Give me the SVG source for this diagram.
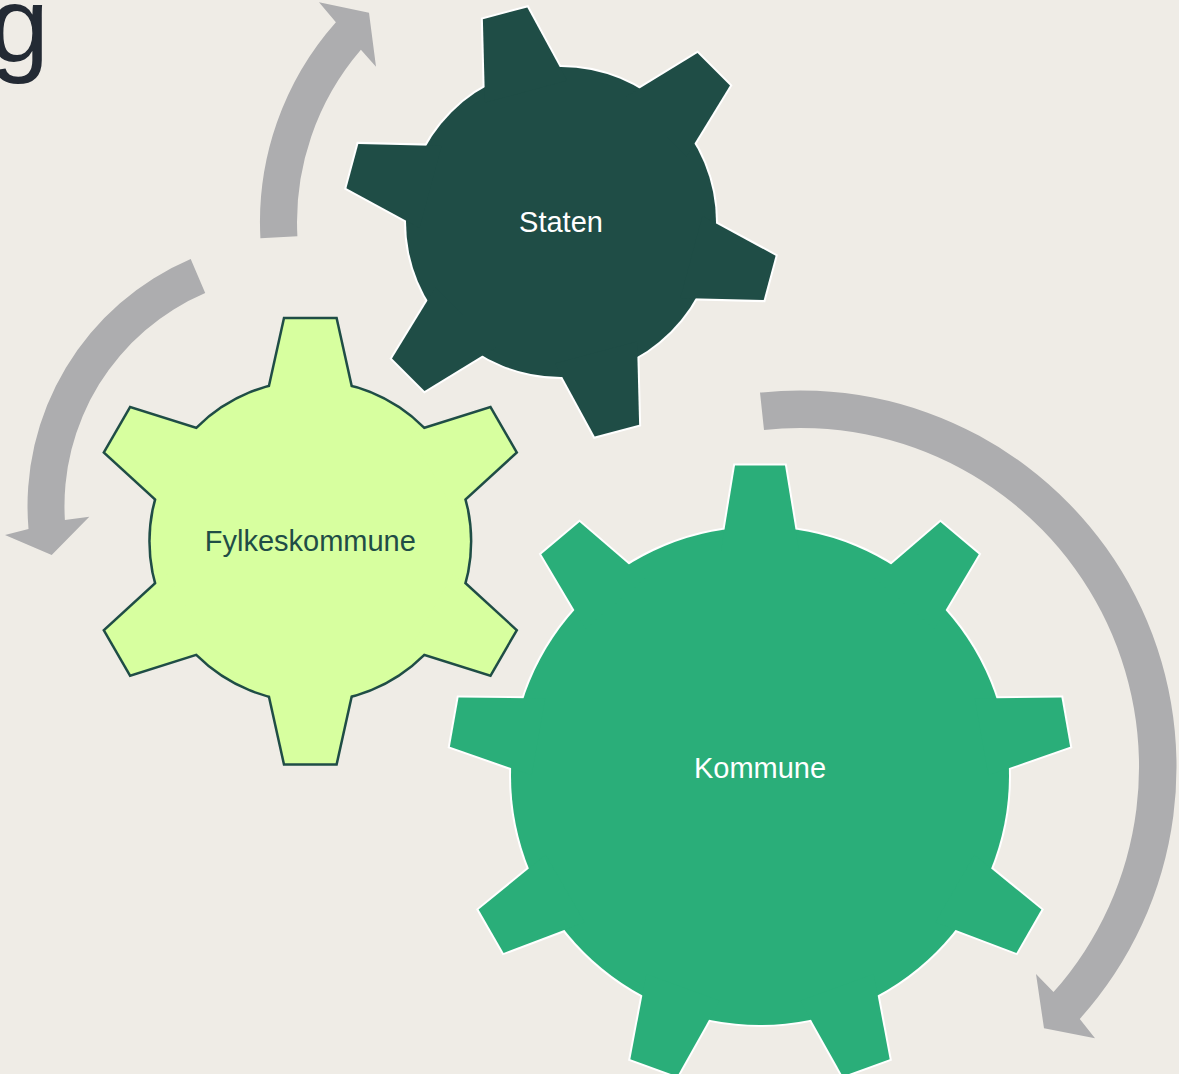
<svg xmlns="http://www.w3.org/2000/svg" xmlns:xlink="http://www.w3.org/1999/xlink" width="1179" height="1074" viewBox="0 0 1179 1074">
<style>
.arrow{fill:#ADADAF;}
.lbl{font-family:"Liberation Sans",Arial,sans-serif;font-size:29px;text-anchor:middle;}
.lineW{fill:#FFFFFF;stroke:#FFFFFF;stroke-width:4;stroke-linejoin:miter;}
.lineD{fill:#1F4D46;stroke:#1F4D46;stroke-width:5;stroke-linejoin:miter;}
</style>
<defs>
  <polygon id="toothS" points="-42.5,-135 -23,-216 23,-216 42.5,-135"/>
  <polygon id="toothF" points="-43.5,-140 -25.3,-222 25.3,-222 43.5,-140"/>
  <polygon id="toothK" points="-39,-225 -25,-310.5 25,-310.5 39,-225"/>
  <g id="gearS">
    <circle r="155"/>
    <use href="#toothS" transform="rotate(-15)"/>
    <use href="#toothS" transform="rotate(45)"/>
    <use href="#toothS" transform="rotate(105)"/>
    <use href="#toothS" transform="rotate(165)"/>
    <use href="#toothS" transform="rotate(225)"/>
    <use href="#toothS" transform="rotate(285)"/>
  </g>
  <g id="gearF">
    <circle r="159.6"/>
    <use href="#toothF" transform="rotate(0)"/>
    <use href="#toothF" transform="rotate(60)"/>
    <use href="#toothF" transform="rotate(120)"/>
    <use href="#toothF" transform="rotate(180)"/>
    <use href="#toothF" transform="rotate(240)"/>
    <use href="#toothF" transform="rotate(300)"/>
  </g>
  <g id="gearK">
    <circle r="249"/>
    <use href="#toothK" transform="rotate(0)"/>
    <use href="#toothK" transform="rotate(40)"/>
    <use href="#toothK" transform="rotate(80)"/>
    <use href="#toothK" transform="rotate(120)"/>
    <use href="#toothK" transform="rotate(160)"/>
    <use href="#toothK" transform="rotate(200)"/>
    <use href="#toothK" transform="rotate(240)"/>
    <use href="#toothK" transform="rotate(280)"/>
    <use href="#toothK" transform="rotate(320)"/>
  </g>
</defs>
<rect width="1179" height="1074" fill="#EFECE6"/>
<text x="-11" y="62" font-family="'Liberation Sans',Arial,sans-serif" font-size="108" fill="#232A34">g</text>
<g id="connectors">
  <path class="arrow" d="M260.4,238.3 A301,301 0 0 1 335.9,22.3 L319,2.3 L369,12.7 L376,66.7 L360.9,49.8 A264,264 0 0 0 297.4,236.3 Z"/>
  <path class="arrow" d="M190.7,259 A268.5,268.5 0 0 0 28.5,528.9 L5,535 L51.7,555 L89.3,516.7 L64.9,520.1 A231.5,231.5 0 0 1 205.2,293.1 Z"/>
  <path class="arrow" d="M760,392.6 A376.5,376.5 0 0 1 1079.8,1018.9 L1095,1038.3 L1044,1028.3 L1036,974 L1053.5,992.1 A339,339 0 0 0 764,429.9 Z"/>
</g>
<g id="staten" transform="translate(561,222)">
  <use href="#gearS" class="lineW"/>
  <use href="#gearS" fill="#1F4D46"/>
  <text class="lbl" x="0" y="10" fill="#FFFFFF">Staten</text>
</g>
<g id="fylkeskommune" transform="translate(310.3,541.3)">
  <use href="#gearF" class="lineD"/>
  <use href="#gearF" fill="#D7FF9F"/>
  <text class="lbl" x="0" y="10" fill="#1F4D46">Fylkeskommune</text>
</g>
<g id="kommune" transform="translate(760,776)">
  <use href="#gearK" class="lineW"/>
  <use href="#gearK" fill="#2AAE79"/>
  <text class="lbl" x="0" y="2" fill="#FFFFFF">Kommune</text>
</g>
</svg>
